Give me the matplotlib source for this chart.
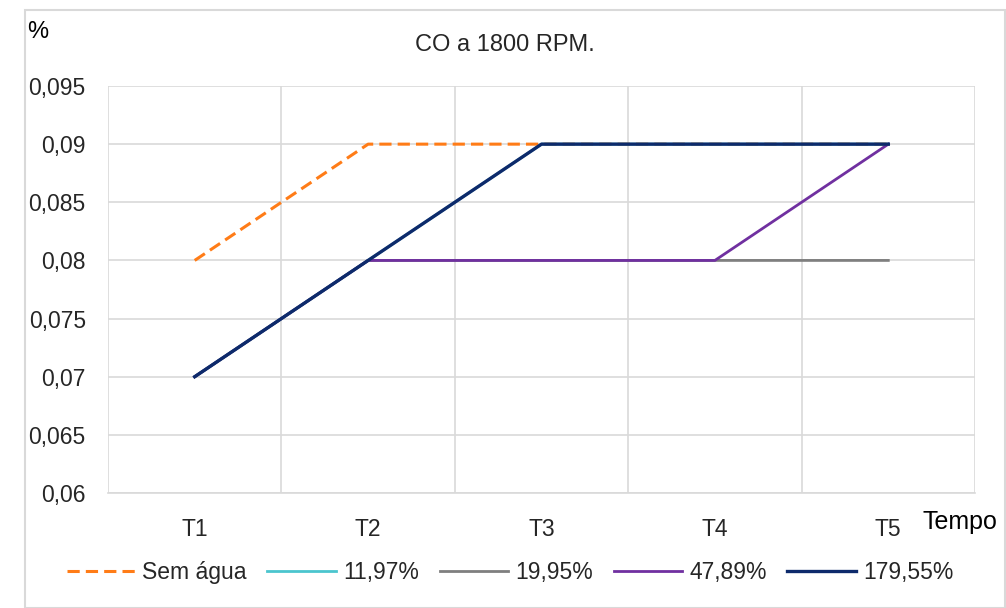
import numpy as np
import matplotlib
matplotlib.use("Agg")
import matplotlib.pyplot as plt
from matplotlib.patches import Rectangle

plt.rcParams["font.family"] = ["Liberation Sans", "DejaVu Sans"]

# ── data ────────────────────────────────────────────────────────────────────
categorias = ["T1", "T2", "T3", "T4", "T5"]
sem_agua = [0.08, 0.09, 0.09, 0.09, 0.09]
s_1197 = [0.07, 0.08, 0.09, 0.09, 0.09]
s_1995 = [0.07, 0.08, 0.08, 0.08, 0.08]
s_4789 = [0.07, 0.08, 0.08, 0.08, 0.09]
s_17955 = [0.07, 0.08, 0.09, 0.09, 0.09]
yticks = [0.06, 0.065, 0.07, 0.075, 0.08, 0.085, 0.09, 0.095]

# ── plot ────────────────────────────────────────────────────────────────────
fig = plt.figure(figsize=(10.06, 6.08), dpi=100)
ax = fig.add_axes([108 / 1006, 1 - 493 / 608, (975 - 108) / 1006, (493 - 86) / 608])

# outer chart border
fig.patches.append(Rectangle((25 / 1006, 0), 980 / 1006, 1 - 10 / 608,
                             transform=fig.transFigure, fill=False,
                             edgecolor="#d9d9d9", lw=1.5))

x = np.arange(len(categorias))
ax.plot(x, sem_agua, color="#FF7C17", lw=2.2, ls=(0, (4, 2)), label="Sem água")
ax.plot(x, s_1197, color="#4BC5CE", lw=2.0, label="11,97%")
ax.plot(x, s_1995, color="#7F7F7F", lw=2.0, label="19,95%")
ax.plot(x, s_4789, color="#7030A0", lw=2.0, label="47,89%")
ax.plot(x, s_17955, color="#0D2A6B", lw=2.4, label="179,55%")

ax.set_xlim(-0.5, len(categorias) - 0.5)
ax.set_ylim(0.06, 0.095)
ax.set_yticks(yticks)
ax.set_yticklabels([f"{v:g}".replace(".", ",") for v in yticks])
ax.set_xticks(x)
ax.set_xticklabels(categorias)
ax.set_xticks(np.arange(-0.5, len(categorias)), minor=True)

ax.grid(True, axis="y", color="#d9d9d9", lw=1.2)
ax.grid(True, axis="x", which="minor", color="#d9d9d9", lw=1.2)
ax.tick_params(axis="both", which="both", length=0, labelsize=16.5, colors="#262626")
ax.tick_params(axis="x", pad=18)
ax.tick_params(axis="y", pad=16)
for s in ["top", "right", "left"]:
    ax.spines[s].set_visible(False)
ax.spines["bottom"].set_color("#d9d9d9")
ax.spines["bottom"].set_linewidth(1.2)
ax.set_axisbelow(True)

fig.text(505 / 1006, 1 - 45 / 608, "CO a 1800 RPM.", ha="center", va="center",
         fontsize=17, color="#262626")
fig.text(38 / 1006, 1 - 32 / 608, "%", ha="center", va="center", fontsize=17)
fig.text(960 / 1006, 1 - 522 / 608, "Tempo", ha="center", va="center", fontsize=18)

fig.legend(loc="center", bbox_to_anchor=(510 / 1006, 1 - 573 / 608), ncol=5,
           frameon=False, fontsize=16.5, handlelength=3.0, handletextpad=0.3,
           columnspacing=0.9, labelcolor="#262626")

plt.savefig("out.png", dpi=100)
